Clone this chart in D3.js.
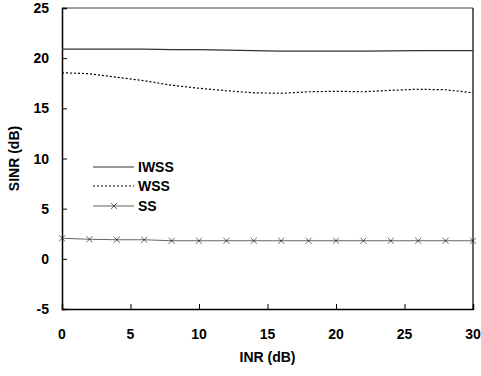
<!DOCTYPE html>
<html>
<head>
<meta charset="utf-8">
<script src="https://cdn.jsdelivr.net/npm/d3@7"></script>
<style>
  body { margin: 0; background: #fff; }
  text { font-family: "Liberation Sans", Arial, sans-serif; font-weight: bold; }
</style>
</head>
<body>
<svg id="chart" width="481" height="376"></svg>
<script>
// INR (dB) sample points
const inr = [0, 2, 4, 6, 8, 10, 12, 14, 16, 18, 20, 22, 24, 26, 28, 30];
const iwss = [20.9, 20.9, 20.9, 20.9, 20.85, 20.85, 20.8, 20.75, 20.7, 20.7, 20.7, 20.7, 20.72, 20.75, 20.75, 20.75];
const wss = [18.55, 18.45, 18.1, 17.75, 17.3, 17.0, 16.75, 16.55, 16.5, 16.65, 16.7, 16.65, 16.8, 16.9, 16.85, 16.55];
const ss = [2.05, 1.95, 1.9, 1.9, 1.8, 1.8, 1.8, 1.8, 1.8, 1.8, 1.8, 1.8, 1.8, 1.8, 1.8, 1.8];
const xTicks = [0, 5, 10, 15, 20, 25, 30];
const yTicks = [-5, 0, 5, 10, 15, 20, 25];

const svg = d3.select("#chart");
const m = { left: 62, right: 473, top: 8, bottom: 309 };

const x = d3.scaleLinear().domain([0, 30]).range([m.left, m.right]);
const y = d3.scaleLinear().domain([-5, 25]).range([m.bottom, m.top]);

// frame
svg.append("line").attr("x1", m.left).attr("x2", m.right).attr("y1", m.top).attr("y2", m.top)
  .attr("stroke", "#808080").attr("stroke-width", 1.5);
svg.append("line").attr("x1", m.right).attr("x2", m.right).attr("y1", m.top).attr("y2", m.bottom)
  .attr("stroke", "#000").attr("stroke-width", 1.2);

// axes with inward ticks
const yAxis = svg.append("g").attr("transform", "translate(" + m.left + ",0)")
  .call(d3.axisRight(y).tickValues(yTicks).tickSize(5).tickFormat(""));
const xAxis = svg.append("g").attr("transform", "translate(0," + m.bottom + ")")
  .call(d3.axisTop(x).tickValues(xTicks).tickSize(5).tickFormat(""));
[yAxis, xAxis].forEach(g => {
  g.select(".domain").attr("stroke", "#000").attr("stroke-width", 1.5);
  g.selectAll(".tick line").attr("stroke", "#000").attr("stroke-width", 1);
});
yAxis.selectAll(".tick").filter(d => d === -5 || d === 25).select("line").remove();
xAxis.selectAll(".tick").filter(d => d === 0 || d === 30).select("line").remove();

// tick labels
svg.append("g").selectAll("text").data(yTicks).join("text")
  .attr("x", 49).attr("y", d => y(d)).attr("dy", "0.36em")
  .attr("text-anchor", "end").style("font-size", "14px").text(d => d);
svg.append("g").selectAll("text").data(xTicks).join("text")
  .attr("x", d => x(d)).attr("y", 339)
  .attr("text-anchor", "middle").style("font-size", "14px").text(d => d);

// axis titles
svg.append("text").attr("x", x(15)).attr("y", 362).attr("text-anchor", "middle")
  .style("font-size", "14px").text("INR (dB)");
svg.append("text").attr("transform", "translate(19," + y(10) + ") rotate(-90)")
  .attr("text-anchor", "middle").style("font-size", "14px").text("SINR (dB)");

const line = vals => d3.line().x((d, i) => x(inr[i])).y(d => y(d))(vals);

svg.append("path").attr("d", line(iwss)).attr("fill", "none")
  .attr("stroke", "#333").attr("stroke-width", 1.2);
svg.append("path").attr("d", line(wss)).attr("fill", "none")
  .attr("stroke", "#000").attr("stroke-width", 1.2).attr("stroke-dasharray", "2,2");
svg.append("path").attr("d", line(ss)).attr("fill", "none")
  .attr("stroke", "#666").attr("stroke-width", 1.2);

const cross = d3.symbol().type(d3.symbolTimes).size(26);
svg.append("g").selectAll("path").data(ss).join("path")
  .attr("transform", (d, i) => "translate(" + x(inr[i]) + "," + y(d) + ")")
  .attr("d", cross).attr("fill", "#000").attr("stroke", "#000").attr("stroke-width", 0.6);

// legend
const legend = [
  { name: "IWSS", color: "#333", dash: null, marker: false, y: 167 },
  { name: "WSS", color: "#000", dash: "2,2", marker: false, y: 186 },
  { name: "SS", color: "#666", dash: null, marker: true, y: 206 }
];
const lg = svg.append("g");
legend.forEach(l => {
  lg.append("line").attr("x1", 93).attr("x2", 134).attr("y1", l.y).attr("y2", l.y)
    .attr("stroke", l.color).attr("stroke-width", 1.2).attr("stroke-dasharray", l.dash);
  if (l.marker) {
    lg.append("path").attr("transform", "translate(114," + l.y + ")").attr("d", cross)
      .attr("fill", "#000").attr("stroke", "#000").attr("stroke-width", 0.6);
  }
  lg.append("text").attr("x", 138).attr("y", l.y).attr("dy", "0.36em")
    .style("font-size", "14px").text(l.name);
});
</script>
</body>
</html>
